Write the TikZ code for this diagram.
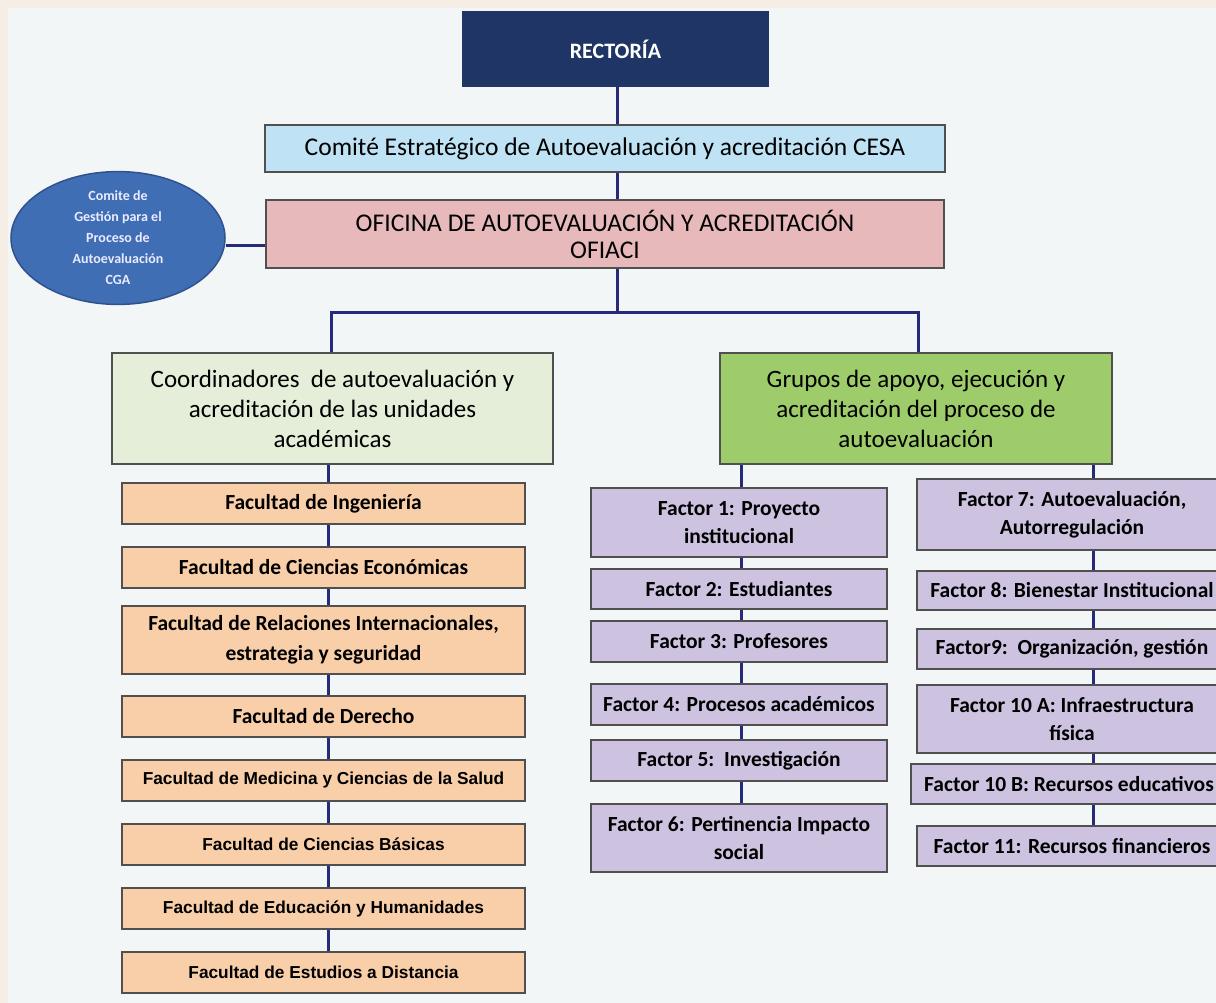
\documentclass[tikz,border=0pt]{standalone}
\usepackage{fontspec}
\setmainfont{Carlito}
\newfontfamily\arialf{Liberation Sans}
\usetikzlibrary{shapes.geometric}

\definecolor{pagebg}{HTML}{F6EEE5}
\definecolor{innerbg}{HTML}{F3F6F7}
\definecolor{navy}{HTML}{1F3566}
\definecolor{cesafill}{HTML}{BFE3F4}
\definecolor{ofifill}{HTML}{E7B9BB}
\definecolor{cgafill}{HTML}{3F6EB5}
\definecolor{cgaline}{HTML}{2F528F}
\definecolor{coordfill}{HTML}{E4EED9}
\definecolor{grpfill}{HTML}{9ECC6B}
\definecolor{facfill}{HTML}{F9CFAA}
\definecolor{factfill}{HTML}{CDC3E0}
\definecolor{boxline}{HTML}{505050}
\definecolor{linkblue}{HTML}{262A7A}

\pgfdeclarelayer{paper}
\pgfdeclarelayer{wires}
\pgfsetlayers{paper,wires,main}

\tikzset{
  unit/.style={rectangle, draw=boxline, line width=2pt, inner sep=0pt, align=center},
  head/.style={unit, fill=navy, draw=navy, text=white, font=\fontsize{22}{26}\selectfont\bfseries},
  wide/.style={unit, font=\fontsize{25.5}{27}\selectfont},
  group/.style={unit, font=\fontsize{25}{30}\selectfont},
  faculty/.style={unit, fill=facfill, minimum width=403pt, font=\fontsize{21.5}{30}\selectfont\bfseries},
  facultyarial/.style={faculty, font=\arialf\fontsize{17.3}{22}\selectfont\bfseries},
  factor/.style={unit, fill=factfill, font=\fontsize{21.5}{28}\selectfont\bfseries},
  midfactor/.style={factor, minimum width=296pt},
  rightfactor/.style={factor, minimum width=310pt},
  wire/.style={draw=linkblue, line width=3pt},
}

\begin{document}
\begin{tikzpicture}[x=1pt, y=-1pt]
  \useasboundingbox (0,0) rectangle (1216,1003);
  \clip (0,0) rectangle (1216,1003);
  \begin{pgfonlayer}{paper}
    \fill[pagebg] (0,0) rectangle (1216,1003);
    \fill[innerbg] (8,8) rectangle (1216,1003);
  \end{pgfonlayer}

  % top of the hierarchy
  \node[head, minimum width=305pt, minimum height=74pt] (rect) at (615.5,49) {RECTORÍA};
  \node[wide, fill=cesafill, minimum width=680pt, minimum height=47pt] (cesa) at (605,148.5)
    {Comité Estratégico de Autoevaluación y acreditación CESA};
  \node[wide, fill=ofifill, minimum width=678pt, minimum height=68pt] (ofi) at (605,234)
    {OFICINA DE AUTOEVALUACIÓN Y ACREDITACIÓN\\OFIACI};
  \node[ellipse, fill=cgafill, draw=cgaline, line width=1.5pt, inner sep=0pt,
        minimum width=214pt, minimum height=126pt, align=center, text=white!92!blue,
        font=\fontsize{14}{21}\selectfont\bfseries] (cga) at (118,238)
    {Comite de\\Gestión para el\\Proceso de\\Autoevaluación\\CGA};

  % the two branches
  \node[group, fill=coordfill, minimum width=441pt, minimum height=111pt] (lg) at (332.5,408.5)
    {Coordinadores\ \ de autoevaluación y\\acreditación de las unidades\\académicas};
  \node[group, fill=grpfill, minimum width=392pt, minimum height=111pt] (rg) at (916,408.5)
    {Grupos de apoyo, ejecución y\\acreditación del proceso de\\autoevaluación};

  % reference points for the vertical links
  \coordinate (trunk) at (617,0);
  \coordinate (bar) at (0,312);
  \coordinate (lx) at (328,0);
  \coordinate (mx) at (741,0);
  \coordinate (rx) at (1093,0);
  \coordinate (side) at (0,246);
  \coordinate (lbar) at (331,312);
  \coordinate (rbar) at (918,312);

  % faculties
  \node[faculty, minimum height=41pt] (f1) at (323.5,503.5) {Facultad de Ingeniería};
  \node[faculty, minimum height=41pt] (f2) at (323.5,567.5) {Facultad de Ciencias Económicas};
  \node[faculty, minimum height=68pt] (f3) at (323.5,640) {Facultad de Relaciones Internacionales,\\estrategia y seguridad};
  \node[faculty, minimum height=41pt] (f4) at (323.5,716.5) {Facultad de Derecho};
  \node[facultyarial, minimum height=41pt] (f5) at (323.5,780.5) {Facultad de Medicina y Ciencias de la Salud};
  \node[facultyarial, minimum height=41pt] (f6) at (323.5,844.5) {Facultad de Ciencias Básicas};
  \node[facultyarial, minimum height=41pt] (f7) at (323.5,908.5) {Facultad de Educación y Humanidades};
  \node[facultyarial, minimum height=41pt] (f8) at (323.5,972.5) {Facultad de Estudios a Distancia};

  % factors, first column
  \node[midfactor, minimum height=69pt] (m1) at (739,522.5) {Factor 1: Proyecto\\institucional};
  \node[midfactor, minimum height=40pt] (m2) at (739,589) {Factor 2: Estudiantes};
  \node[midfactor, minimum height=41pt] (m3) at (739,641.5) {Factor 3: Profesores};
  \node[midfactor, minimum height=41pt] (m4) at (739,704.5) {Factor 4: Procesos académicos};
  \node[midfactor, minimum height=41pt] (m5) at (739,760.5) {Factor 5:\ \ Investigación};
  \node[midfactor, minimum height=68pt] (m6) at (739,838) {Factor 6: Pertinencia Impacto\\social};

  % factors, second column
  \node[rightfactor, minimum height=71pt] (r1) at (1072,514.5) {Factor 7: Autoevaluación,\\Autorregulación};
  \node[rightfactor, minimum height=39pt] (r2) at (1072,590.5) {Factor 8: Bienestar Institucional};
  \node[rightfactor, minimum height=40pt] (r3) at (1072,649) {Factor9:\ \ Organización, gestión};
  \node[rightfactor, minimum height=68pt] (r4) at (1072,719) {Factor 10 A: Infraestructura\\física};
  \node[rightfactor, minimum width=316pt, minimum height=40pt] (r5) at (1069,784) {Factor 10 B: Recursos educativos};
  \node[rightfactor, minimum height=40pt] (r6) at (1072,846) {Factor 11: Recursos financieros};

  % links, kept behind the boxes
  \begin{pgfonlayer}{wires}
    \path[wire] (rect.south -| trunk) -- (ofi.north -| trunk);
    \path[wire] (cga.east |- side) -- (ofi.west |- side);
    \path[wire] (ofi.south -| trunk) -- (trunk |- bar) -- (lbar) -- (lbar |- lg.north);
    \path[wire] (trunk |- bar) -- (rbar) -- (rbar |- rg.north);
    \path[wire] (lg.south -| lx) -- (f8.north -| lx);
    \path[wire] (rg.south -| mx) -- (m6.north -| mx);
    \path[wire] (rg.south -| rx) -- (r6.north -| rx);
  \end{pgfonlayer}
\end{tikzpicture}
\end{document}
